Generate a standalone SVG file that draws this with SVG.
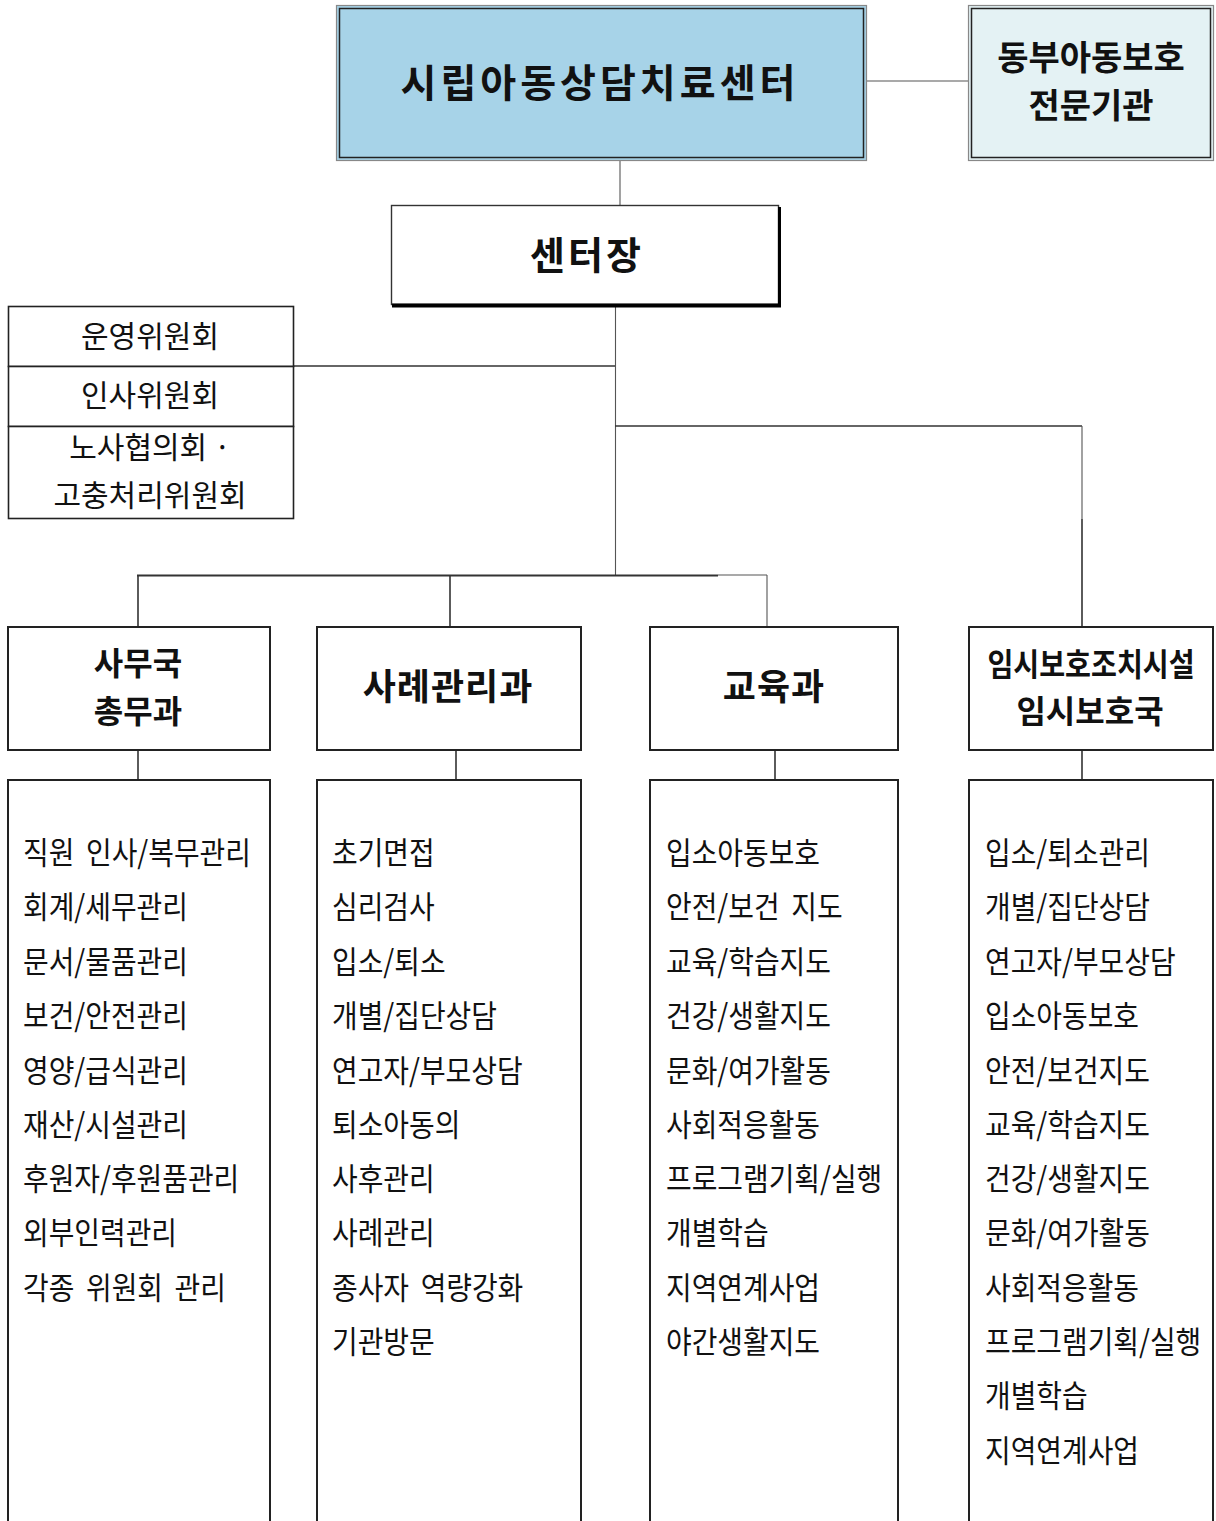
<svg xmlns="http://www.w3.org/2000/svg" width="1216" height="1521" viewBox="0 0 1216 1521">
<style>
.t{font-family:"Noto Sans CJK KR","Noto Sans",sans-serif;fill:#111}
.h{font-weight:700;text-anchor:middle}
.c{font-size:30px;text-anchor:middle}
.l{font-size:31px;word-spacing:6px}
.box{fill:#fff;stroke:#222;stroke-width:2}
.cbox{fill:#fff;stroke:#222;stroke-width:1.6}
.ln{stroke:#333;stroke-width:1.6;fill:none}
.thin{stroke:#555;stroke-width:1.1;fill:none}
</style>
<rect width="1216" height="1521" fill="#fff"/>
<g id="connectors">
<line class="thin" x1="867" y1="81" x2="968" y2="81"/>
<line class="thin" x1="620" y1="161" x2="620" y2="205"/>
<line class="thin" x1="615.5" y1="307" x2="615.5" y2="575"/>
<line class="ln" x1="294" y1="366" x2="615" y2="366"/>
<line class="ln" x1="615" y1="426" x2="1082" y2="426"/>
<line class="thin" x1="1082" y1="426" x2="1082" y2="519"/>
<line class="ln" x1="1082" y1="519" x2="1082" y2="627"/>
<line class="ln" x1="137" y1="575.5" x2="718" y2="575.5" style="stroke-width:2.2"/>
<line class="thin" x1="718" y1="575" x2="767" y2="575"/>
<line class="ln" x1="138" y1="575" x2="138" y2="627"/>
<line class="ln" x1="450" y1="575" x2="450" y2="627"/>
<line class="thin" x1="767" y1="575" x2="767" y2="627"/>
<line class="ln" x1="138" y1="750" x2="138" y2="780"/>
<line class="ln" x1="456" y1="750" x2="456" y2="780"/>
<line class="ln" x1="775" y1="750" x2="775" y2="780"/>
<line class="ln" x1="1082" y1="750" x2="1082" y2="780"/>
</g>
<g id="center">
<rect x="336.5" y="5.5" width="530" height="155" fill="#a7d3e8" stroke="#888" stroke-width="1.2"/>
<rect x="339.5" y="8.5" width="524" height="149" fill="none" stroke="#222" stroke-width="1.5"/>
<text class="t h" x="600" y="97" font-size="39" letter-spacing="4">시립아동상담치료센터</text>
</g>
<g id="east">
<rect x="968.5" y="5.5" width="245" height="155" fill="#e4f2f4" stroke="#888" stroke-width="1.2"/>
<rect x="971.5" y="8.5" width="239" height="149" fill="none" stroke="#222" stroke-width="1.5"/>
<text class="t h" font-size="34"><tspan x="1091" y="70">동부아동보호</tspan><tspan x="1091" y="118">전문기관</tspan></text>
</g>
<g id="director">
<rect x="391.5" y="205.5" width="387" height="99" fill="#fff" stroke="#333" stroke-width="1.4"/>
<line x1="779.5" y1="207" x2="779.5" y2="307" stroke="#000" stroke-width="3"/>
<line x1="392" y1="305.5" x2="781" y2="305.5" stroke="#000" stroke-width="4"/>
<text class="t h" x="587" y="269" font-size="38" letter-spacing="3">센터장</text>
</g>
<g id="committee1">
<rect class="cbox" x="8.5" y="306.5" width="285" height="60"/>
<text class="t c" x="150" y="347">운영위원회</text>
</g>
<g id="committee2">
<rect class="cbox" x="8.5" y="366.5" width="285" height="60"/>
<text class="t c" x="150" y="406">인사위원회</text>
</g>
<g id="committee3">
<rect class="cbox" x="8.5" y="426.5" width="285" height="92"/>
<text class="t c"><tspan x="150" y="458">노사협의회 ·</tspan><tspan x="150" y="506">고충처리위원회</tspan></text>
</g>
<g id="admin">
<rect class="box" x="8" y="627" width="262" height="123"/>
<text class="t h" font-size="32"><tspan x="138" y="675">사무국</tspan><tspan x="138" y="723">총무과</tspan></text>
</g>
<g id="casemgmt">
<rect class="box" x="317" y="627" width="264" height="123"/>
<text class="t h" x="448" y="700" font-size="36" letter-spacing="1">사례관리과</text>
</g>
<g id="education">
<rect class="box" x="650" y="627" width="248" height="123"/>
<text class="t h" x="774" y="700" font-size="36" letter-spacing="1">교육과</text>
</g>
<g id="shelter">
<rect class="box" x="969" y="627" width="244" height="123" fill="#e4f2f4"/>
<g transform="translate(1091,0) scale(0.88,1)"><text class="t h" x="0" y="676" font-size="32">임시보호조치시설</text></g>
<text class="t h" x="1090" y="723" font-size="32">임시보호국</text>
</g>
<g id="admin-tasks">
<rect class="box" x="8" y="780" width="262" height="745"/>
<g transform="translate(23,0) scale(0.9,1)"><text class="t l">
<tspan x="0" y="864">직원 인사/복무관리</tspan>
<tspan x="0" y="918">회계/세무관리</tspan>
<tspan x="0" y="973">문서/물품관리</tspan>
<tspan x="0" y="1027">보건/안전관리</tspan>
<tspan x="0" y="1082">영양/급식관리</tspan>
<tspan x="0" y="1136">재산/시설관리</tspan>
<tspan x="0" y="1190">후원자/후원품관리</tspan>
<tspan x="0" y="1244">외부인력관리</tspan>
<tspan x="0" y="1299">각종 위원회 관리</tspan>
</text></g>
</g>
<g id="casemgmt-tasks">
<rect class="box" x="317" y="780" width="264" height="745"/>
<g transform="translate(332,0) scale(0.9,1)"><text class="t l">
<tspan x="0" y="864">초기면접</tspan>
<tspan x="0" y="918">심리검사</tspan>
<tspan x="0" y="973">입소/퇴소</tspan>
<tspan x="0" y="1027">개별/집단상담</tspan>
<tspan x="0" y="1082">연고자/부모상담</tspan>
<tspan x="0" y="1136">퇴소아동의</tspan>
<tspan x="0" y="1190">사후관리</tspan>
<tspan x="0" y="1244">사례관리</tspan>
<tspan x="0" y="1299">종사자 역량강화</tspan>
<tspan x="0" y="1353">기관방문</tspan>
</text></g>
</g>
<g id="education-tasks">
<rect class="box" x="650" y="780" width="248" height="745"/>
<g transform="translate(666,0) scale(0.9,1)"><text class="t l">
<tspan x="0" y="864">입소아동보호</tspan>
<tspan x="0" y="918">안전/보건 지도</tspan>
<tspan x="0" y="973">교육/학습지도</tspan>
<tspan x="0" y="1027">건강/생활지도</tspan>
<tspan x="0" y="1082">문화/여가활동</tspan>
<tspan x="0" y="1136">사회적응활동</tspan>
<tspan x="0" y="1190">프로그램기획/실행</tspan>
<tspan x="0" y="1244">개별학습</tspan>
<tspan x="0" y="1299">지역연계사업</tspan>
<tspan x="0" y="1353">야간생활지도</tspan>
</text></g>
</g>
<g id="shelter-tasks">
<rect class="box" x="969" y="780" width="244" height="745" fill="#e4f2f4"/>
<g transform="translate(985,0) scale(0.9,1)"><text class="t l">
<tspan x="0" y="864">입소/퇴소관리</tspan>
<tspan x="0" y="918">개별/집단상담</tspan>
<tspan x="0" y="973">연고자/부모상담</tspan>
<tspan x="0" y="1027">입소아동보호</tspan>
<tspan x="0" y="1082">안전/보건지도</tspan>
<tspan x="0" y="1136">교육/학습지도</tspan>
<tspan x="0" y="1190">건강/생활지도</tspan>
<tspan x="0" y="1244">문화/여가활동</tspan>
<tspan x="0" y="1299">사회적응활동</tspan>
<tspan x="0" y="1353">프로그램기획/실행</tspan>
<tspan x="0" y="1407">개별학습</tspan>
<tspan x="0" y="1462">지역연계사업</tspan>
</text></g>
</g>
</svg>
